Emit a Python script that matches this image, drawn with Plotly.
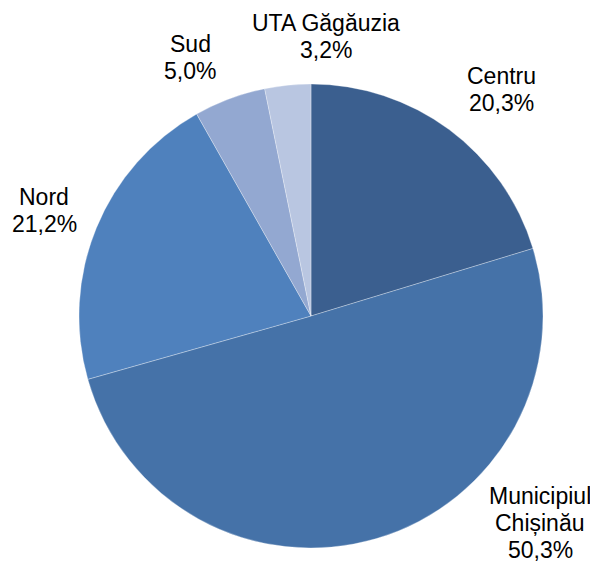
import plotly.graph_objects as go

regions = ["Centru", "Municipiul Chișinău", "Nord", "Sud", "UTA Găgăuzia"]
shares = [20.3, 50.3, 21.2, 5.0, 3.2]
label_lines = [["Centru"], ["Municipiul", "Chișinău"], ["Nord"], ["Sud"], ["UTA Găgăuzia"]]
colors = ["#3b5f8f", "#4572a8", "#4f81bd", "#93a8d1", "#b9c6e1"]

OFF = 8  # default body margin of the html page
W, H = 598 - OFF, 562 - OFF
cx, cy, r = 311 - OFF, 316 - OFF, 232

fig = go.Figure(go.Pie(
    labels=regions, values=shares, sort=False, direction="clockwise",
    rotation=0, textinfo="none", hoverinfo="label+percent",
    marker=dict(colors=colors, line=dict(color="rgba(255,255,255,0.5)", width=0.6)),
    domain=dict(x=[(cx - r) / W, (cx + r) / W], y=[(H - cy - r) / H, (H - cy + r) / H]),
    showlegend=False,
))

# label anchor: centre x and first line centre y (page pixels), line spacing
label_pos = [(501, 76), (540, 496), (44, 197), (190, 44), (326, 23)]
LINE = 27
for lines, val, (px, py) in zip(label_lines, shares, label_pos):
    all_lines = lines + [f"{val:.1f}%".replace(".", ",")]
    for i, t in enumerate(all_lines):
        fig.add_annotation(
            x=(px - OFF) / W, y=1 - (py + i * LINE - OFF) / H, xref="paper", yref="paper",
            text=t, showarrow=False, xanchor="center", yanchor="middle",
            font=dict(family="Liberation Sans, Arial", size=23, color="#000000"),
        )

fig.update_layout(
    width=W, height=H, margin=dict(l=0, r=0, t=0, b=0),
    paper_bgcolor="white", plot_bgcolor="white",
)
fig.write_html("out.html")
